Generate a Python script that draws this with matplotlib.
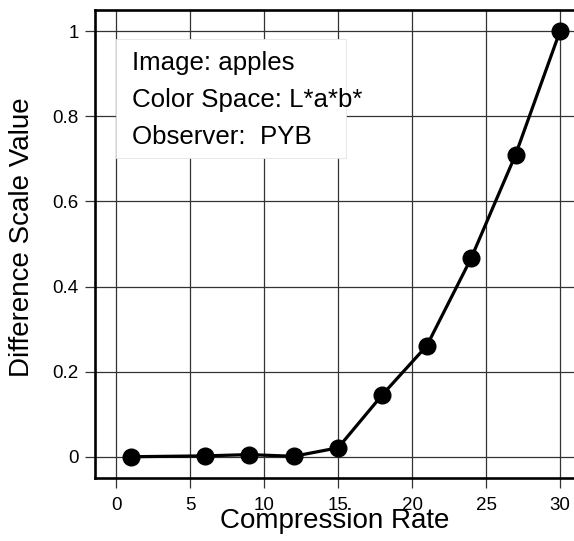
import matplotlib
matplotlib.use("Agg")
import matplotlib.pyplot as plt
from matplotlib.patches import Rectangle
from matplotlib.ticker import FormatStrFormatter

plt.rcParams['font.family'] = ['Liberation Sans', 'DejaVu Sans']

compression_rate = [1, 6, 9, 12, 15, 18, 21, 24, 27, 30]
difference_scale = [0.0, 0.002, 0.005, 0.001, 0.021, 0.146, 0.261, 0.467, 0.71, 1.0]
x_ticks = [0, 5, 10, 15, 20, 25, 30]
y_ticks = [0, 0.2, 0.4, 0.6, 0.8, 1.0]
info_lines = ["Image: apples", "Color Space: L*a*b*", "Observer:  PYB"]

W, H = 574, 541
fig = plt.figure(figsize=(W / 100, H / 100), dpi=100)
ax = fig.add_axes([95 / W, 63 / H, (W - 95) / W, 468 / H])

ax.set_xlim(-1.44, 30.95)
ax.set_ylim(-0.05, 1.05)
ax.set_xticks(x_ticks)
ax.set_yticks(y_ticks)
ax.yaxis.set_major_formatter(FormatStrFormatter('%g'))

gridc = '#333333'
ax.grid(True, color=gridc, linewidth=0.9, zorder=0)
ax.set_axisbelow(True)
ax.tick_params(direction='out', length=7.2, width=0.9, color=gridc,
               labelsize=13.5, pad=4.5)
ax.tick_params(axis='x', pad=6.5)
for s in ['left', 'bottom', 'top']:
    ax.spines[s].set_linewidth(1.9)
ax.spines['right'].set_visible(False)

ax.plot(compression_rate, difference_scale, color='black', linewidth=2.3,
        marker='o', markersize=12, zorder=5, clip_on=False)

# info box
ax.add_patch(Rectangle((0.0, 0.701), 15.5, 0.28, facecolor='white',
                       edgecolor='#e4e4e4', linewidth=0.6, zorder=3))
for line, yb in zip(info_lines, [0.909, 0.821, 0.734]):
    ax.text(1.04, yb, line, fontsize=18.6, va='baseline', ha='left', zorder=4)

ax.set_xlabel('Compression Rate', fontsize=20)
ax.set_ylabel('Difference Scale Value', fontsize=20)
ax.xaxis.set_label_coords(0.5, (478 - 527.7) / 468)
ax.xaxis.label.set_va('baseline')
ax.yaxis.set_label_coords((35 - 95) / 479, 0.514)

fig.savefig('out.png', dpi=100)
